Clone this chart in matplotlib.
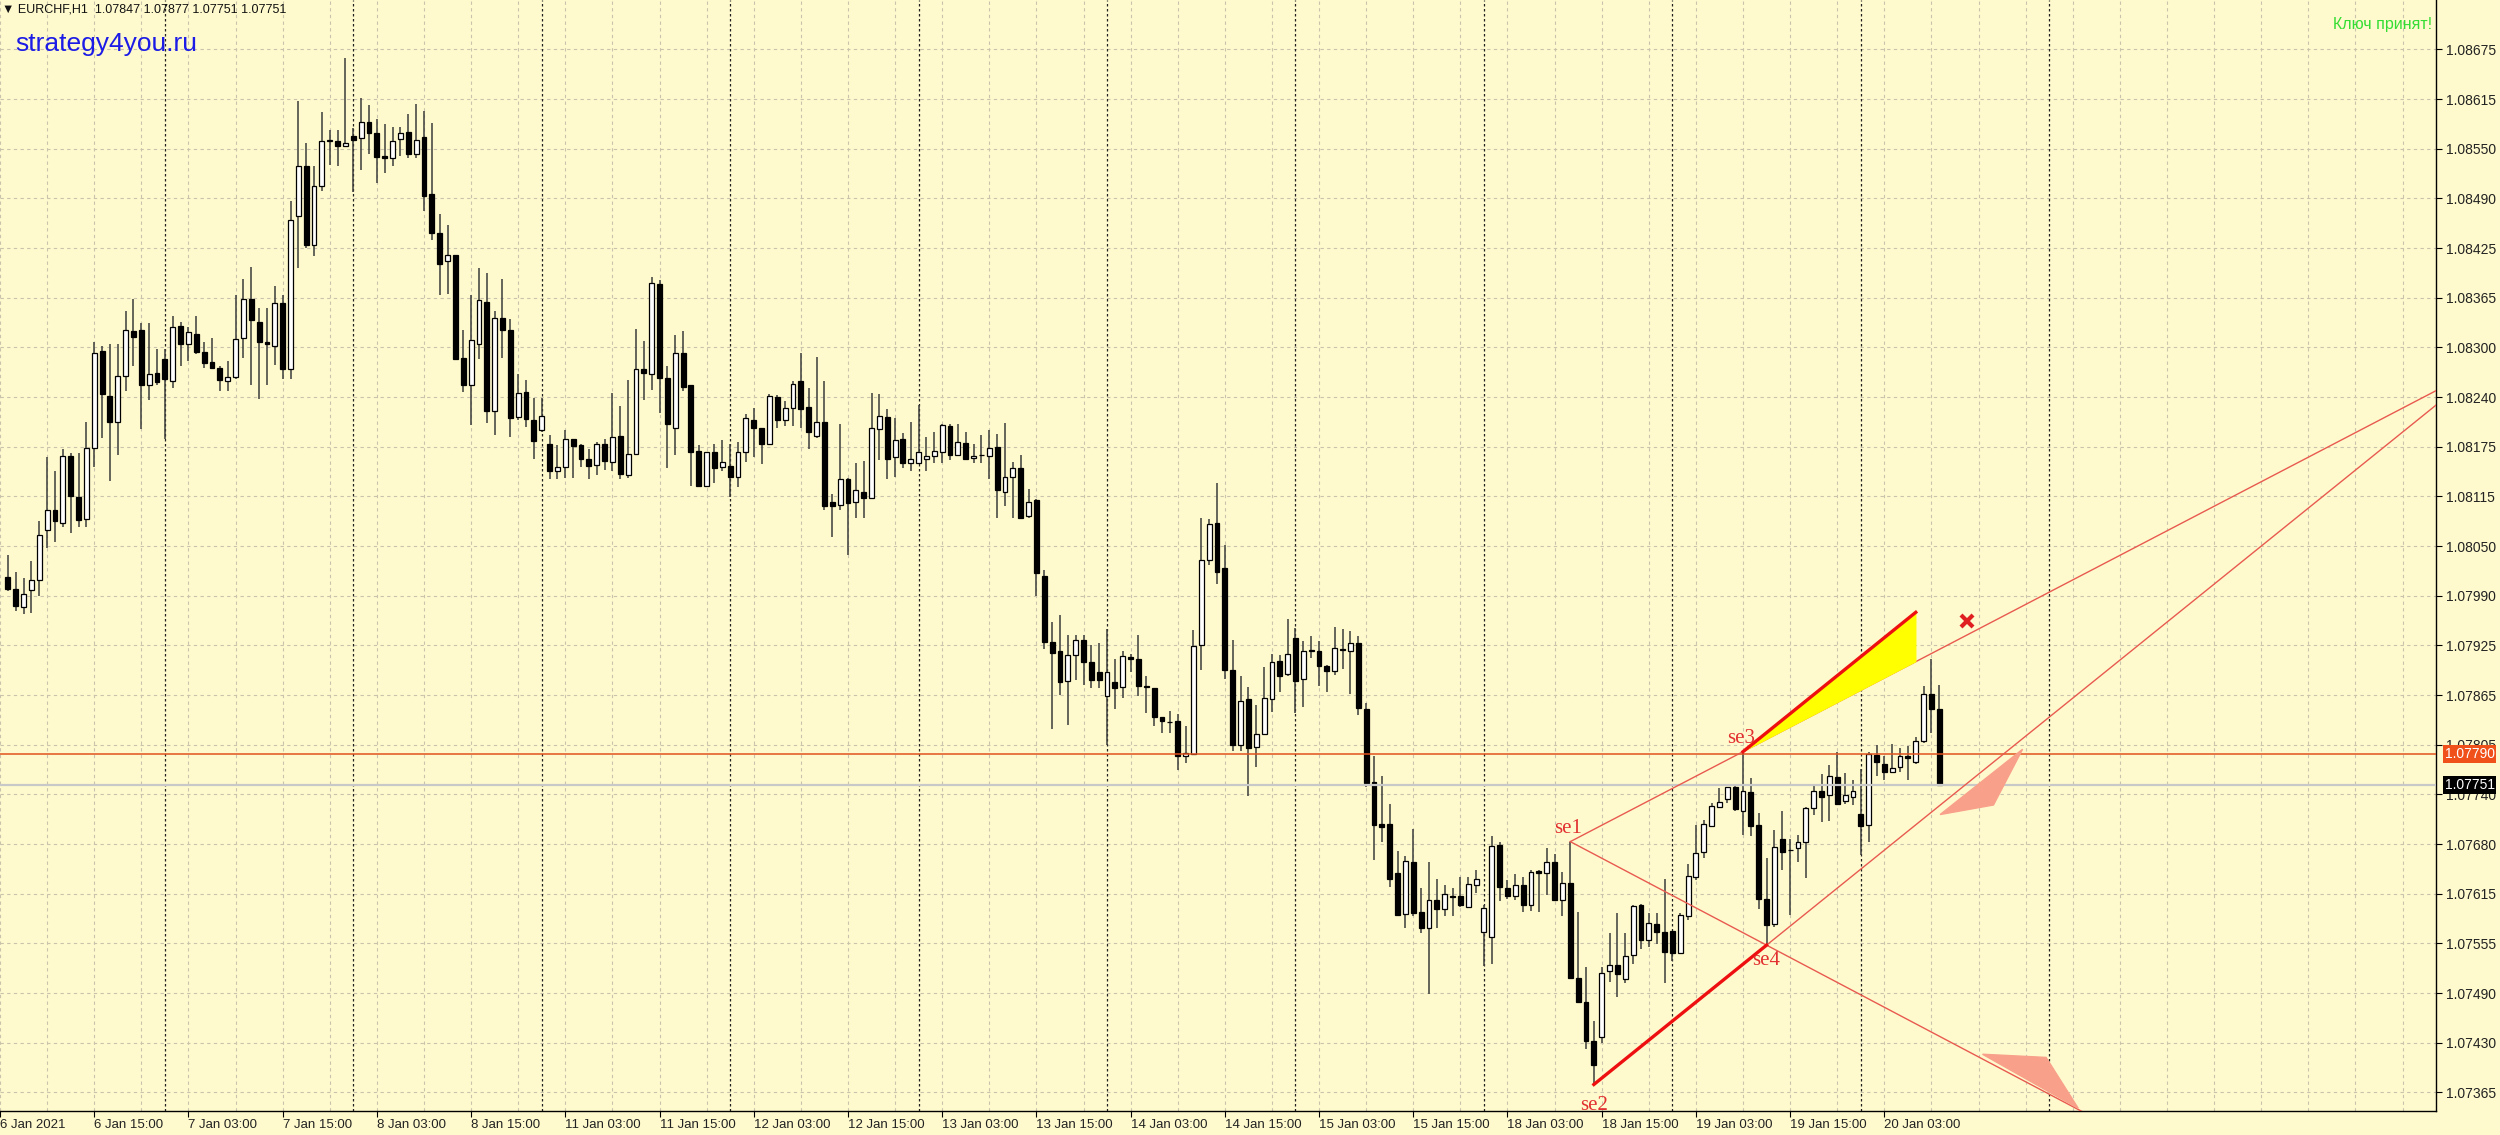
import matplotlib.pyplot as plt
import matplotlib.transforms as mtransforms
import numpy as np

# EURCHF H1 bars, 6 Jan 04:00 -> 20 Jan 10:00
opens = [
    1.08012, 1.07997, 1.07975, 1.07996, 1.08009, 1.08071, 1.08096, 1.08080, 1.08164, 1.08113,
    1.08085, 1.08174, 1.08296, 1.08240, 1.08207, 1.08265, 1.08321, 1.08323, 1.08253, 1.08268,
    1.08286, 1.08258, 1.08328, 1.08305, 1.08317, 1.08295, 1.08282, 1.08275, 1.08258, 1.08263,
    1.08313, 1.08362, 1.08333, 1.08307, 1.08302, 1.08357, 1.08274, 1.08466, 1.08529, 1.08429,
    1.08503, 1.08560, 1.08560, 1.08554, 1.08566, 1.08564, 1.08584, 1.08570, 1.08541, 1.08538,
    1.08562, 1.08571, 1.08544, 1.08565, 1.08493, 1.08445, 1.08409, 1.08417, 1.08287, 1.08253,
    1.08305, 1.08358, 1.08221, 1.08338, 1.08323, 1.08213, 1.08245, 1.08210, 1.08197, 1.08180,
    1.08146, 1.08150, 1.08186, 1.08178, 1.08161, 1.08153, 1.08179, 1.08157, 1.08189, 1.08141,
    1.08167, 1.08273, 1.08267, 1.08380, 1.08262, 1.08200, 1.08294, 1.08253, 1.08170, 1.08127,
    1.08169, 1.08150, 1.08152, 1.08138, 1.08169, 1.08210, 1.08200, 1.08179, 1.08239, 1.08210,
    1.08224, 1.08259, 1.08226, 1.08190, 1.08207, 1.08106, 1.08103, 1.08136, 1.08106, 1.08119,
    1.08112, 1.08198, 1.08213, 1.08163, 1.08186, 1.08156, 1.08155, 1.08161, 1.08164, 1.08169,
    1.08202, 1.08166, 1.08181, 1.08162, 1.08165, 1.08164, 1.08175, 1.08119, 1.08138, 1.08149,
    1.08089, 1.08109, 1.08014, 1.07931, 1.07919, 1.07882, 1.07915, 1.07933, 1.07905, 1.07893,
    1.07863, 1.07881, 1.07874, 1.07912, 1.07909, 1.07876, 1.07873, 1.07837, 1.07830, 1.07831,
    1.07788, 1.07790, 1.07927, 1.08034, 1.08080, 1.08024, 1.07896, 1.07801, 1.07859, 1.07799,
    1.07815, 1.07859, 1.07907, 1.07891, 1.07936, 1.07884, 1.07920, 1.07920, 1.07900, 1.07894,
    1.07922, 1.07919, 1.07929, 1.07846, 1.07755, 1.07702, 1.07702, 1.07640, 1.07589, 1.07654,
    1.07592, 1.07572, 1.07607, 1.07596, 1.07612, 1.07612, 1.07598, 1.07626, 1.07567, 1.07560,
    1.07676, 1.07622, 1.07612, 1.07626, 1.07601, 1.07643, 1.07641, 1.07654, 1.07607, 1.07628,
    1.07509, 1.07479, 1.07430, 1.07435, 1.07518, 1.07525, 1.07508, 1.07537, 1.07600, 1.07556,
    1.07577, 1.07567, 1.07568, 1.07540, 1.07587, 1.07636, 1.07667, 1.07700, 1.07724, 1.07734,
    1.07748, 1.07719, 1.07742, 1.07701, 1.07608, 1.07577, 1.07683, 1.07669, 1.07672, 1.07680,
    1.07722, 1.07744, 1.07739, 1.07761, 1.07731, 1.07736, 1.07715, 1.07701, 1.07789, 1.07778,
    1.07768, 1.07774, 1.07788, 1.07780, 1.07806, 1.07866, 1.07847,
]
highs = [
    1.08040, 1.08019, 1.08011, 1.08033, 1.08083, 1.08163, 1.08145, 1.08173, 1.08168, 1.08168,
    1.08207, 1.08307, 1.08302, 1.08305, 1.08305, 1.08346, 1.08362, 1.08331, 1.08331, 1.08299,
    1.08299, 1.08340, 1.08333, 1.08326, 1.08340, 1.08308, 1.08313, 1.08277, 1.08284, 1.08367,
    1.08387, 1.08402, 1.08350, 1.08350, 1.08378, 1.08367, 1.08484, 1.08610, 1.08558, 1.08529,
    1.08596, 1.08574, 1.08574, 1.08664, 1.08576, 1.08614, 1.08605, 1.08588, 1.08581, 1.08577,
    1.08577, 1.08594, 1.08606, 1.08598, 1.08583, 1.08468, 1.08454, 1.08417, 1.08322, 1.08366,
    1.08401, 1.08394, 1.08347, 1.08386, 1.08336, 1.08267, 1.08260, 1.08237, 1.08237, 1.08191,
    1.08178, 1.08197, 1.08186, 1.08180, 1.08173, 1.08182, 1.08186, 1.08243, 1.08227, 1.08260,
    1.08324, 1.08309, 1.08389, 1.08385, 1.08277, 1.08316, 1.08321, 1.08254, 1.08178, 1.08169,
    1.08180, 1.08185, 1.08179, 1.08182, 1.08217, 1.08225, 1.08200, 1.08242, 1.08241, 1.08233,
    1.08258, 1.08294, 1.08250, 1.08289, 1.08259, 1.08116, 1.08205, 1.08137, 1.08156, 1.08158,
    1.08244, 1.08242, 1.08223, 1.08212, 1.08193, 1.08207, 1.08228, 1.08188, 1.08194, 1.08204,
    1.08204, 1.08204, 1.08195, 1.08180, 1.08191, 1.08197, 1.08192, 1.08206, 1.08157, 1.08165,
    1.08123, 1.08110, 1.08021, 1.07956, 1.07964, 1.07940, 1.07940, 1.07940, 1.07927, 1.07930,
    1.07947, 1.07909, 1.07919, 1.07916, 1.07940, 1.07888, 1.07873, 1.07837, 1.07844, 1.07840,
    1.07825, 1.07946, 1.08087, 1.08085, 1.08130, 1.08052, 1.07933, 1.07888, 1.07874, 1.07852,
    1.07899, 1.07916, 1.07914, 1.07959, 1.07948, 1.07932, 1.07938, 1.07932, 1.07902, 1.07950,
    1.07947, 1.07945, 1.07938, 1.07854, 1.07788, 1.07763, 1.07727, 1.07668, 1.07662, 1.07696,
    1.07622, 1.07655, 1.07633, 1.07626, 1.07622, 1.07636, 1.07635, 1.07644, 1.07601, 1.07687,
    1.07680, 1.07632, 1.07639, 1.07636, 1.07644, 1.07644, 1.07672, 1.07665, 1.07642, 1.07680,
    1.07591, 1.07522, 1.07455, 1.07523, 1.07565, 1.07590, 1.07565, 1.07600, 1.07602, 1.07590,
    1.07590, 1.07633, 1.07568, 1.07590, 1.07652, 1.07701, 1.07707, 1.07729, 1.07747, 1.07749,
    1.07753, 1.07793, 1.07760, 1.07716, 1.07660, 1.07695, 1.07719, 1.07683, 1.07688, 1.07724,
    1.07751, 1.07765, 1.07776, 1.07793, 1.07766, 1.07758, 1.07771, 1.07793, 1.07801, 1.07787,
    1.07803, 1.07797, 1.07800, 1.07812, 1.07875, 1.07909, 1.07877,
]
lows = [
    1.07995, 1.07970, 1.07966, 1.07967, 1.07989, 1.08049, 1.08056, 1.08075, 1.08068, 1.08075,
    1.08075, 1.08151, 1.08187, 1.08133, 1.08165, 1.08246, 1.08277, 1.08198, 1.08235, 1.08254,
    1.08186, 1.08250, 1.08277, 1.08284, 1.08293, 1.08275, 1.08274, 1.08246, 1.08246, 1.08261,
    1.08288, 1.08254, 1.08236, 1.08254, 1.08279, 1.08261, 1.08261, 1.08401, 1.08425, 1.08415,
    1.08497, 1.08530, 1.08528, 1.08553, 1.08496, 1.08524, 1.08544, 1.08507, 1.08520, 1.08528,
    1.08541, 1.08539, 1.08539, 1.08472, 1.08435, 1.08366, 1.08368, 1.08286, 1.08245, 1.08203,
    1.08286, 1.08206, 1.08191, 1.08287, 1.08188, 1.08209, 1.08201, 1.08160, 1.08195, 1.08136,
    1.08136, 1.08137, 1.08137, 1.08151, 1.08136, 1.08140, 1.08147, 1.08145, 1.08136, 1.08137,
    1.08167, 1.08235, 1.08247, 1.08218, 1.08149, 1.08166, 1.08246, 1.08127, 1.08127, 1.08127,
    1.08131, 1.08145, 1.08113, 1.08126, 1.08157, 1.08163, 1.08154, 1.08178, 1.08200, 1.08202,
    1.08202, 1.08200, 1.08173, 1.08187, 1.08097, 1.08063, 1.08096, 1.08040, 1.08086, 1.08086,
    1.08112, 1.08159, 1.08136, 1.08138, 1.08149, 1.08145, 1.08154, 1.08146, 1.08155, 1.08155,
    1.08159, 1.08164, 1.08159, 1.08155, 1.08155, 1.08135, 1.08086, 1.08102, 1.08086, 1.08086,
    1.08086, 1.07988, 1.07922, 1.07821, 1.07864, 1.07827, 1.07883, 1.07877, 1.07873, 1.07873,
    1.07801, 1.07846, 1.07860, 1.07893, 1.07863, 1.07841, 1.07825, 1.07817, 1.07817, 1.07770,
    1.07779, 1.07790, 1.07896, 1.08027, 1.08004, 1.07884, 1.07794, 1.07794, 1.07737, 1.07774,
    1.07814, 1.07843, 1.07868, 1.07888, 1.07842, 1.07849, 1.07911, 1.07876, 1.07868, 1.07889,
    1.07897, 1.07866, 1.07839, 1.07748, 1.07657, 1.07679, 1.07623, 1.07586, 1.07572, 1.07586,
    1.07565, 1.07489, 1.07572, 1.07586, 1.07587, 1.07598, 1.07597, 1.07615, 1.07524, 1.07526,
    1.07606, 1.07608, 1.07607, 1.07591, 1.07593, 1.07592, 1.07613, 1.07606, 1.07587, 1.07509,
    1.07477, 1.07420, 1.07375, 1.07427, 1.07504, 1.07485, 1.07502, 1.07526, 1.07545, 1.07548,
    1.07552, 1.07503, 1.07530, 1.07540, 1.07582, 1.07632, 1.07659, 1.07699, 1.07722, 1.07728,
    1.07718, 1.07688, 1.07687, 1.07596, 1.07550, 1.07573, 1.07644, 1.07588, 1.07655, 1.07634,
    1.07713, 1.07705, 1.07706, 1.07726, 1.07727, 1.07726, 1.07663, 1.07680, 1.07762, 1.07758,
    1.07767, 1.07768, 1.07757, 1.07778, 1.07804, 1.07816, 1.07751,
]
closes = [
    1.07997, 1.07976, 1.07991, 1.08009, 1.08065, 1.08096, 1.08083, 1.08164, 1.08114, 1.08084,
    1.08174, 1.08294, 1.08242, 1.08207, 1.08265, 1.08322, 1.08314, 1.08253, 1.08267, 1.08257,
    1.08261, 1.08326, 1.08305, 1.08320, 1.08295, 1.08281, 1.08275, 1.08260, 1.08263, 1.08311,
    1.08362, 1.08335, 1.08307, 1.08305, 1.08357, 1.08274, 1.08461, 1.08529, 1.08429, 1.08504,
    1.08560, 1.08561, 1.08554, 1.08557, 1.08561, 1.08584, 1.08570, 1.08540, 1.08538, 1.08560,
    1.08570, 1.08544, 1.08561, 1.08491, 1.08444, 1.08406, 1.08417, 1.08286, 1.08253, 1.08310,
    1.08360, 1.08221, 1.08338, 1.08323, 1.08212, 1.08244, 1.08211, 1.08183, 1.08214, 1.08146,
    1.08150, 1.08186, 1.08177, 1.08160, 1.08152, 1.08179, 1.08158, 1.08188, 1.08142, 1.08167,
    1.08273, 1.08268, 1.08381, 1.08262, 1.08205, 1.08294, 1.08251, 1.08169, 1.08127, 1.08169,
    1.08149, 1.08157, 1.08138, 1.08169, 1.08212, 1.08200, 1.08179, 1.08240, 1.08210, 1.08225,
    1.08255, 1.08223, 1.08195, 1.08207, 1.08101, 1.08102, 1.08136, 1.08105, 1.08122, 1.08112,
    1.08199, 1.08215, 1.08161, 1.08184, 1.08156, 1.08160, 1.08169, 1.08164, 1.08170, 1.08203,
    1.08165, 1.08182, 1.08161, 1.08164, 1.08166, 1.08174, 1.08122, 1.08138, 1.08149, 1.08087,
    1.08107, 1.08017, 1.07931, 1.07917, 1.07881, 1.07915, 1.07933, 1.07905, 1.07883, 1.07883,
    1.07893, 1.07873, 1.07913, 1.07909, 1.07875, 1.07874, 1.07836, 1.07832, 1.07830, 1.07788,
    1.07791, 1.07926, 1.08034, 1.08079, 1.08018, 1.07896, 1.07801, 1.07857, 1.07797, 1.07815,
    1.07860, 1.07905, 1.07888, 1.07916, 1.07882, 1.07919, 1.07921, 1.07900, 1.07894, 1.07923,
    1.07921, 1.07929, 1.07848, 1.07754, 1.07701, 1.07699, 1.07633, 1.07588, 1.07656, 1.07590,
    1.07572, 1.07607, 1.07596, 1.07614, 1.07611, 1.07600, 1.07627, 1.07633, 1.07597, 1.07675,
    1.07623, 1.07612, 1.07626, 1.07601, 1.07642, 1.07640, 1.07654, 1.07607, 1.07628, 1.07509,
    1.07479, 1.07430, 1.07400, 1.07515, 1.07525, 1.07514, 1.07536, 1.07599, 1.07556, 1.07578,
    1.07567, 1.07542, 1.07540, 1.07588, 1.07637, 1.07666, 1.07702, 1.07725, 1.07730, 1.07748,
    1.07721, 1.07744, 1.07700, 1.07608, 1.07575, 1.07673, 1.07667, 1.07670, 1.07680, 1.07722,
    1.07743, 1.07736, 1.07762, 1.07727, 1.07738, 1.07743, 1.07700, 1.07790, 1.07780, 1.07768,
    1.07773, 1.07787, 1.07785, 1.07806, 1.07866, 1.07847, 1.07751,
]

price_labels = ["1.07365", "1.07430", "1.07490", "1.07555", "1.07615", "1.07680", "1.07740",
                "1.07805", "1.07865", "1.07925", "1.07990", "1.08050", "1.08115", "1.08175",
                "1.08240", "1.08300", "1.08365", "1.08425", "1.08490", "1.08550", "1.08615",
                "1.08675"]
date_labels = ["6 Jan 2021", "6 Jan 15:00", "7 Jan 03:00", "7 Jan 15:00", "8 Jan 03:00",
               "8 Jan 15:00", "11 Jan 03:00", "11 Jan 15:00", "12 Jan 03:00", "12 Jan 15:00",
               "13 Jan 03:00", "13 Jan 15:00", "14 Jan 03:00", "14 Jan 15:00", "15 Jan 03:00",
               "15 Jan 15:00", "18 Jan 03:00", "18 Jan 15:00", "19 Jan 03:00", "19 Jan 15:00",
               "20 Jan 03:00"]
date_label_bars = [-1, 11, 23, 35, 47, 59, 71, 83, 95, 107, 119, 131, 143, 155, 167, 179,
                   191, 203, 215, 227, 239]
day_starts = [20, 44, 68, 92, 116, 140, 164, 188, 212, 236, 260]

# pattern points (bar index, price)
se1 = (199, 1.07680)
se2 = (202, 1.07375)
se3 = (221, 1.07793)
se4 = (224, 1.07550)
level_line = 1.07790
bid = 1.07751
cross_mark = (249.5, 1.07957)
arrow_up = [(246.1, 1.07714), (256.6, 1.07796), (252.9, 1.07726)]
arrow_down = [(251.5, 1.07413), (259.6, 1.07409), (263.7, 1.07345)]

bg = "#fffacd"
plt.rcParams["font.family"] = ["Liberation Sans", "DejaVu Sans"]

fig = plt.figure(figsize=(25, 11.35), dpi=100)
fig.patch.set_facecolor(bg)
ax = fig.add_axes([0, 24 / 1135, 2436 / 2500, 1111 / 1135])
ax.set_facecolor(bg)

x_right = 309.26
ax.set_xlim(-0.66, x_right)
ax.set_ylim(1.073417, 1.087370)

# grid
ytick_pos = np.linspace(1.07365, 1.08675, len(price_labels))
for y in ytick_pos:
    ax.axhline(y, color="#c8c3aa", lw=0.8, ls=(0, (3, 3)), zorder=0)
for x in np.arange(-1, x_right, 6):
    ax.axvline(x, color="#c8c3aa", lw=0.8, ls=(0, (3, 3)), zorder=0)
for x in day_starts:
    ax.axvline(x, color="#202020", lw=0.9, ls=(0, (2, 2)), zorder=1)

# candles
o = np.array(opens)
h = np.array(highs)
l = np.array(lows)
c = np.array(closes)
idx = np.arange(len(o))
ax.vlines(idx, l, h, color="#3c3c3c", lw=1.1, zorder=2)
bull = c >= o
ax.bar(idx[bull], c[bull] - o[bull], bottom=o[bull], width=0.62, color="white",
       edgecolor="black", lw=0.9, zorder=3)
ax.bar(idx[~bull], c[~bull] - o[~bull], bottom=o[~bull], width=0.62, color="black",
       edgecolor="black", lw=0.9, zorder=3)

# horizontal lines
ax.axhline(bid, color="#c8c8c8", lw=1.6, zorder=4)
ax.axhline(level_line, color="#e0521e", lw=1.1, zorder=4)

line_c = "#e85a50"
# se1 -> se3 extended
k13 = (se3[1] - se1[1]) / (se3[0] - se1[0])
ax.plot([se1[0], x_right], [se1[1], se1[1] + k13 * (x_right - se1[0])], color=line_c, lw=1.0, zorder=5)
# se2 -> se4 extended
k24 = (se4[1] - se2[1]) / (se4[0] - se2[0])
ax.plot([se2[0], x_right], [se2[1], se2[1] + k24 * (x_right - se2[0])], color=line_c, lw=1.0, zorder=5)
# se1 -> se4 extended
k14 = (se4[1] - se1[1]) / (se4[0] - se1[0])
ax.plot([se1[0], 290], [se1[1], se1[1] + k14 * (290 - se1[0])], color=line_c, lw=1.0, zorder=5)

# thick legs and projection triangle
span = se4[0] - se2[0]
proj = (se3[0] + span, se3[1] + (se4[1] - se2[1]))
proj_low = (se3[0] + span, se3[1] + k13 * span)
ax.fill([se3[0], proj[0], proj_low[0]], [se3[1], proj[1], proj_low[1]], color="#ffff00", zorder=5)
ax.plot([se2[0], se4[0]], [se2[1], se4[1]], color="#ee1010", lw=2.4, zorder=6)
ax.plot([se3[0], proj[0]], [se3[1], proj[1]], color="#ee1010", lw=2.4, zorder=6)

ax.fill([p[0] for p in arrow_up], [p[1] for p in arrow_up], color="#f8a08a", zorder=5)
ax.fill([p[0] for p in arrow_down], [p[1] for p in arrow_down], color="#f8a08a", zorder=5)
ax.plot(*cross_mark, marker="x", ms=9, mew=3, color="#e02020", zorder=6)

# labels of the points
lab = dict(color="#e23030", fontsize=15, family=["Liberation Serif", "DejaVu Serif"],
           ha="center", zorder=7)
ax.text(se1[0] - 0.3, se1[1] + 0.00005, "se1", va="bottom", **lab)
ax.text(se3[0] - 0.3, se3[1] + 0.00005, "se3", va="bottom", **lab)
ax.text(se4[0], se4[1] - 0.00007, "se4", va="top", **lab)
ax.text(se2[0], se2[1] - 0.00014, "se2", va="top", clip_on=True, **lab)

# axes styling
for s in ["left", "top"]:
    ax.spines[s].set_visible(False)
for s in ["right", "bottom"]:
    ax.spines[s].set_color("black")
    ax.spines[s].set_linewidth(1.0)
ax.yaxis.tick_right()
ax.set_yticks(ytick_pos, price_labels)
ax.tick_params(axis="y", direction="out", length=4, width=0.8, pad=3, labelsize=10,
               labelcolor="#222222")
ax.set_xticks(date_label_bars, date_labels)
ax.tick_params(axis="x", direction="out", length=4, width=0.8, pad=2, labelsize=9.5,
               labelcolor="#222222")
for t in ax.get_xticklabels():
    t.set_ha("left")

# price boxes on the axis
trans = mtransforms.blended_transform_factory(ax.transAxes, ax.transData)
ax.text(1.0035, level_line, "1.07790", transform=trans, ha="left", va="center", fontsize=10,
        color="white", bbox=dict(boxstyle="square,pad=0.12", fc="#f0501a", ec="none"),
        clip_on=False, zorder=10)
ax.text(1.0035, bid, "1.07751", transform=trans, ha="left", va="center", fontsize=10,
        color="white", bbox=dict(boxstyle="square,pad=0.12", fc="black", ec="none"),
        clip_on=False, zorder=10)

# header texts
fig.text(0.0008, 1 - 9 / 1135, "\u25bc EURCHF,H1  1.07847 1.07877 1.07751 1.07751",
         fontsize=9, va="center", ha="left", color="#111111")
fig.text(15 / 2500, 1 - 44 / 1135, "strategy4you.ru", fontsize=19, va="center",
         ha="left", color="#1c1ce6")
fig.text(2432 / 2500, 1 - 24 / 1135, "Ключ принят!", fontsize=11.5, va="center",
         ha="right", color="#33dd33")

fig.savefig("out.png", dpi=100, facecolor=bg)
